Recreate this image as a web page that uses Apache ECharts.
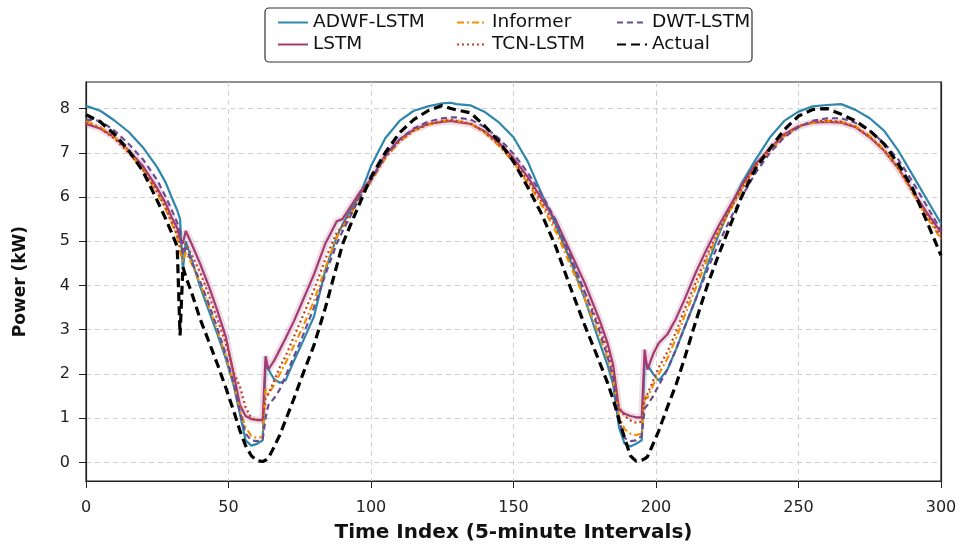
<!DOCTYPE html>
<html>
<head>
<meta charset="utf-8">
<script src="https://cdn.jsdelivr.net/npm/echarts@6/dist/echarts.min.js"></script>
<style>
  html, body { margin: 0; padding: 0; background: #fff; }
  #chart { width: 961px; height: 548px; }
</style>
</head>
<body>
<div id="chart"></div>
<script>
// sample positions along the time axis (5-minute steps)
const timeIdx = [0, 5, 10, 15, 20, 25, 28, 30, 32, 33, 34, 35, 37, 40, 43, 46, 49, 52, 54, 56, 58, 60, 62, 63, 64, 66, 68, 70, 73, 76, 80, 84, 88, 90, 93, 96, 100, 105, 110, 115, 120, 125, 128, 130, 135, 140, 145, 150, 155, 160, 165, 170, 175, 180, 183, 185, 187, 189, 191, 193, 195, 196, 197, 199, 201, 204, 207, 210, 214, 218, 222, 226, 230, 235, 240, 245, 250, 255, 260, 265, 270, 275, 280, 285, 290, 295, 300]

const actual = [7.86, 7.7, 7.42, 7.05, 6.58, 5.92, 5.5, 5.2, 4.88, 2.87, 4.42, 4.2, 3.85, 3.25, 2.75, 2.24, 1.7, 1.13, 0.72, 0.38, 0.15, 0.04, 0.02, 0.05, 0.1, 0.35, 0.62, 0.95, 1.45, 1.98, 2.65, 3.5, 4.45, 4.93, 5.4, 5.85, 6.45, 7.0, 7.45, 7.75, 7.95, 8.07, 8.0, 7.97, 7.9, 7.6, 7.25, 6.8, 6.22, 5.6, 4.85, 3.95, 3.1, 2.3, 1.8, 1.42, 0.97, 0.55, 0.15, 0.03, 0.05, 0.08, 0.13, 0.42, 0.72, 1.25, 1.75, 2.35, 3.2, 4.0, 4.7, 5.35, 6.0, 6.65, 7.1, 7.52, 7.83, 7.98, 8.0, 7.87, 7.72, 7.5, 7.2, 6.75, 6.2, 5.45, 4.68]
const adwfLstm = [8.06, 7.95, 7.73, 7.47, 7.12, 6.67, 6.32, 6.0, 5.7, 5.5, 4.35, 5.0, 4.6, 3.98, 3.45, 2.92, 2.35, 1.7, 1.1, 0.5, 0.38, 0.42, 0.5, 2.2, 2.1, 1.88, 1.8, 1.85, 2.3, 2.72, 3.3, 4.35, 5.1, 5.38, 5.72, 6.02, 6.7, 7.33, 7.72, 7.95, 8.05, 8.12, 8.13, 8.1, 8.07, 7.92, 7.68, 7.35, 6.8, 6.05, 5.35, 4.55, 3.7, 2.75, 2.2, 1.75, 0.8, 0.42, 0.36, 0.42, 0.5, 2.25, 2.2, 2.0, 1.85, 2.1, 2.55, 3.05, 3.7, 4.45, 5.15, 5.75, 6.3, 6.85, 7.35, 7.72, 7.93, 8.05, 8.08, 8.1, 7.97, 7.78, 7.5, 7.05, 6.5, 5.95, 5.4]
const lstm = [7.65, 7.55, 7.35, 7.05, 6.7, 6.2, 5.85, 5.55, 5.3, 5.05, 4.95, 5.23, 4.95, 4.5, 4.0, 3.45, 2.85, 1.95, 1.3, 1.05, 0.98, 0.96, 0.95, 2.4, 2.1, 2.3, 2.55, 2.8, 3.2, 3.65, 4.25, 4.95, 5.45, 5.5, 5.8, 6.1, 6.4, 6.95, 7.3, 7.52, 7.65, 7.7, 7.72, 7.7, 7.65, 7.48, 7.22, 6.88, 6.45, 5.95, 5.45, 4.75, 4.05, 3.25, 2.7, 2.2, 1.2, 1.1, 1.05, 1.02, 1.02, 2.55, 2.1, 2.45, 2.7, 2.9, 3.25, 3.68, 4.3, 4.85, 5.35, 5.8, 6.25, 6.75, 7.1, 7.42, 7.6, 7.68, 7.7, 7.68, 7.58, 7.35, 7.05, 6.65, 6.15, 5.65, 5.2]
const informer = [7.72, 7.58, 7.35, 7.02, 6.62, 6.1, 5.72, 5.42, 5.1, 4.75, 4.55, 4.75, 4.5, 4.05, 3.55, 3.0, 2.42, 1.72, 1.2, 0.8, 0.6, 0.55, 0.58, 1.65, 1.55, 1.75, 2.0, 2.25, 2.65, 3.05, 3.65, 4.4, 5.1, 5.3, 5.62, 5.98, 6.35, 6.88, 7.25, 7.5, 7.63, 7.72, 7.74, 7.72, 7.66, 7.45, 7.15, 6.78, 6.32, 5.8, 5.2, 4.45, 3.7, 2.9, 2.35, 1.85, 1.05, 0.75, 0.65, 0.62, 0.65, 1.5, 1.45, 1.75, 2.0, 2.35, 2.8, 3.3, 3.95, 4.6, 5.2, 5.7, 6.15, 6.68, 7.05, 7.38, 7.58, 7.68, 7.72, 7.7, 7.6, 7.38, 7.08, 6.65, 6.1, 5.55, 5.05]
const tcnLstm = [7.68, 7.55, 7.32, 7.0, 6.62, 6.12, 5.75, 5.45, 5.15, 4.9, 4.75, 4.95, 4.7, 4.3, 3.8, 3.25, 2.7, 2.0, 1.72, 1.25, 1.0, 0.95, 0.98, 1.45, 1.55, 1.85, 2.15, 2.4, 2.85, 3.3, 3.9, 4.6, 5.2, 5.35, 5.68, 6.02, 6.38, 6.9, 7.27, 7.5, 7.64, 7.72, 7.74, 7.72, 7.66, 7.46, 7.18, 6.82, 6.38, 5.88, 5.3, 4.6, 3.85, 3.1, 2.55, 2.05, 1.25, 1.05, 0.95, 0.9, 0.92, 1.4, 1.55, 1.85, 2.15, 2.5, 2.95, 3.45, 4.08, 4.7, 5.25, 5.72, 6.18, 6.7, 7.07, 7.4, 7.6, 7.7, 7.73, 7.7, 7.58, 7.36, 7.06, 6.65, 6.12, 5.6, 5.1]
const dwtLstm = [7.75, 7.72, 7.5, 7.2, 6.85, 6.38, 6.0, 5.72, 5.42, 5.2, 4.7, 4.85, 4.55, 4.1, 3.6, 3.05, 2.45, 1.75, 1.15, 0.65, 0.5, 0.48, 0.52, 1.0, 1.3, 1.45, 1.65, 1.95, 2.4, 2.85, 3.5, 4.25, 4.95, 5.22, 5.6, 5.98, 6.38, 6.92, 7.3, 7.55, 7.7, 7.78, 7.8, 7.8, 7.75, 7.58, 7.32, 6.98, 6.55, 6.05, 5.45, 4.65, 3.85, 3.0, 2.4, 1.9, 0.95, 0.55, 0.48, 0.5, 0.6, 1.22, 1.3, 1.5, 1.75, 2.1, 2.55, 3.05, 3.7, 4.35, 4.95, 5.5, 6.0, 6.55, 7.0, 7.35, 7.58, 7.72, 7.78, 7.78, 7.68, 7.5, 7.22, 6.85, 6.35, 5.8, 5.25]

const yTicks = [0, 1, 2, 3, 4, 5, 6, 7, 8]

const FONT = 'DejaVu Sans'
const pairs = arr => timeIdx.map((t, i) => [t, arr[i]])

function lineSeries (name, arr, color, width, type, z) {
  return {
    name,
    type: 'line',
    data: pairs(arr),
    showSymbol: false,
    symbol: 'none',
    z,
    lineStyle: { color, width, type },
    itemStyle: { color },
    emphasis: { disabled: true },
  }
}

const legendBase = {
  orient: 'vertical',
  top: 8,
  itemWidth: 30,
  itemHeight: 14,
  itemGap: 3,
  itemStyle: { opacity: 0 },
  textStyle: { fontFamily: FONT, fontSize: 18.5, color: '#111' },
}

const el = document.getElementById('chart')
const chart = echarts.init(el, null, { renderer: 'canvas' })
chart.setOption({
  animation: false,
  backgroundColor: '#fff',
  graphic: [
    {
      type: 'rect',
      shape: { x: 265, y: 8, width: 487, height: 54, r: 4 },
      style: { fill: 'none', stroke: '#333', lineWidth: 1.2 },
      z: 0,
    },
  ],
  legend: [
    Object.assign({}, legendBase, { left: 272, data: ['ADWF-LSTM', 'LSTM'] }),
    Object.assign({}, legendBase, { left: 451, data: ['Informer', 'TCN-LSTM'] }),
    Object.assign({}, legendBase, { left: 611, data: ['DWT-LSTM', 'Actual'] }),
  ],
  grid: {
    left: 86,
    right: 20,
    top: 82,
    bottom: 61,
    show: true,
    borderColor: '#222',
    borderWidth: 1.2,
  },
  xAxis: {
    type: 'value',
    min: 0,
    max: 300,
    interval: 50,
    name: 'Time Index (5-minute Intervals)',
    nameLocation: 'middle',
    nameGap: 42,
    nameTextStyle: { fontFamily: FONT, fontSize: 20, fontWeight: 'bold', color: '#111' },
    axisLine: { onZero: false, lineStyle: { color: '#222', width: 1.2 } },
    axisTick: { show: true, inside: false, length: 7, lineStyle: { color: '#222' } },
    axisLabel: { fontFamily: FONT, fontSize: 16, color: '#222', margin: 19 },
    splitLine: { show: true, lineStyle: { color: '#d0d0d0', type: [5, 4], width: 1 } },
  },
  yAxis: [
    {
      type: 'value',
      min: -0.42,
      max: 8.6,
      splitNumber: 9,
      name: 'Power (kW)',
      nameLocation: 'middle',
      nameGap: 57,
      nameTextStyle: { fontFamily: FONT, fontSize: 17, fontWeight: 'bold', color: '#111' },
      axisLine: { show: true, onZero: false, lineStyle: { color: '#222', width: 1.2 } },
      axisTick: { show: true, length: 7, lineStyle: { color: '#222' }, customValues: yTicks },
      axisLabel: { fontFamily: FONT, fontSize: 16, color: '#222', margin: 16, customValues: yTicks },
      splitLine: { show: true, lineStyle: { color: '#d0d0d0', type: [5, 4], width: 1 } },
    },
    {
      // right frame edge drawn over the last dashed grid line
      type: 'value',
      position: 'right',
      min: -0.42,
      max: 8.6,
      axisLine: { show: true, onZero: false, lineStyle: { color: '#222', width: 1.2 } },
      axisTick: { show: false },
      axisLabel: { show: false },
      splitLine: { show: false },
    },
  ],
  series: [
    // soft halo under the LSTM curve
    {
      name: 'lstm-band',
      type: 'line',
      data: pairs(lstm),
      showSymbol: false,
      symbol: 'none',
      silent: true,
      z: 1,
      lineStyle: { color: 'rgba(162,59,114,0.18)', width: 7 },
    },
    lineSeries('ADWF-LSTM', adwfLstm, '#2E86AB', 2.2, 'solid', 3),
    lineSeries('LSTM', lstm, '#A23B72', 2.2, 'solid', 3),
    lineSeries('Informer', informer, '#F18F01', 2.2, [7, 3, 2, 3], 4),
    lineSeries('TCN-LSTM', tcnLstm, '#C73E1D', 2.2, [2, 3], 4),
    lineSeries('DWT-LSTM', dwtLstm, '#6A4C93', 2.2, [6, 4], 4),
    lineSeries('Actual', actual, '#000000', 3.2, [9, 5], 5),
  ],
})
</script>
</body>
</html>
